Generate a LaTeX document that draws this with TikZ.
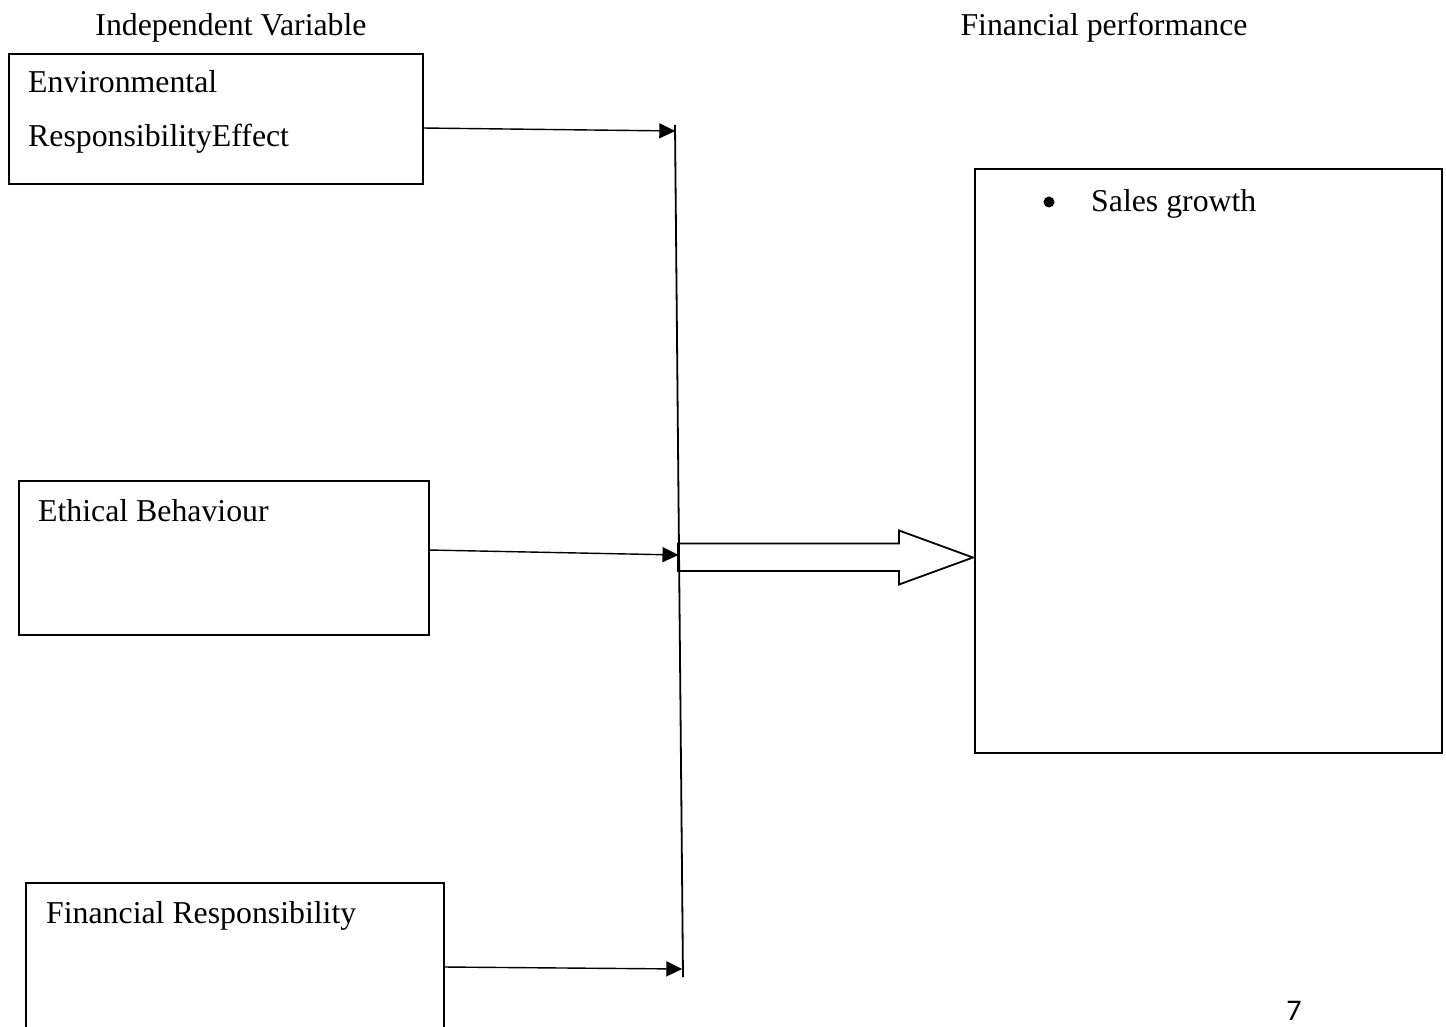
\documentclass[tikz,border=0pt]{standalone}
\usepackage{fontspec}
\setmainfont{Liberation Serif}
\newfontfamily\pagenumfont{Carlito}
\usetikzlibrary{arrows.meta}
\begin{document}
\begin{tikzpicture}[x=1pt,y=-1pt,
  box/.style={draw,line width=1.6pt,anchor=north west,inner sep=0pt},
  lbl/.style={anchor=base west,inner sep=0pt,font=\fontsize{31.8}{38}\selectfont},
  conn/.style={line width=1.4pt,-{Triangle[length=16pt,width=15pt]}},
  bar/.style={line width=1.8pt}]
\useasboundingbox (0,0) rectangle (1446,1027);
% titles
\node[anchor=base,inner sep=0pt,font=\fontsize{31.8}{38}\selectfont] (t1) at (231,36) {Independent Variable};
\node[anchor=base,inner sep=0pt,font=\fontsize{31.8}{38}\selectfont] (t2) at (1104,36) {Financial performance};
% boxes
\node[box,minimum width=414pt,minimum height=130pt] (b1) at (8,53) {};
\node[lbl] (l1a) at (28,93) {Environmental};
\node[lbl] (l1b) at (28,147) {ResponsibilityEffect};
\node[box,minimum width=410pt,minimum height=154pt] (b2) at (18,480) {};
\node[lbl] (l2) at (38,521) {Ethical Behaviour};
\node[box,minimum width=418pt,minimum height=170pt] (b3) at (25,882) {};
\node[lbl] (l3) at (46,923) {Financial Responsibility};
\node[box,minimum width=467pt,minimum height=584pt] (b4) at (974,168) {};
\fill (1049,202) circle (5.5pt);
\node[lbl] (l4) at (1091,212) {Sales growth};
% vertical collector line
\coordinate (vt) at (675,125);
\coordinate (vb) at (683,977);
\draw[bar] (vt) -- (vb);
\coordinate (e1) at (675.3,131);
\coordinate (e2) at (678.5,555);
\coordinate (e3) at (682.3,969);
\coordinate (s1) at (422,128);
\coordinate (s2) at (428,550);
\coordinate (s3) at (443,967);
\draw[conn] (s1) -- (e1);
\draw[conn] (s2) -- (e2);
\draw[conn] (s3) -- (e3);
% block arrow
\draw[line width=1.8pt,line join=miter]
  (678,543.5) -- (899,543.5) -- (899,530.5) -- (973,557.5) -- (899,584.5) -- (899,571) -- (678,571) -- cycle;
% page number
\node[anchor=base,inner sep=0pt,font=\pagenumfont\fontsize{30}{36}\selectfont] (pn) at (1294,1020) {7};
\end{tikzpicture}
\end{document}
